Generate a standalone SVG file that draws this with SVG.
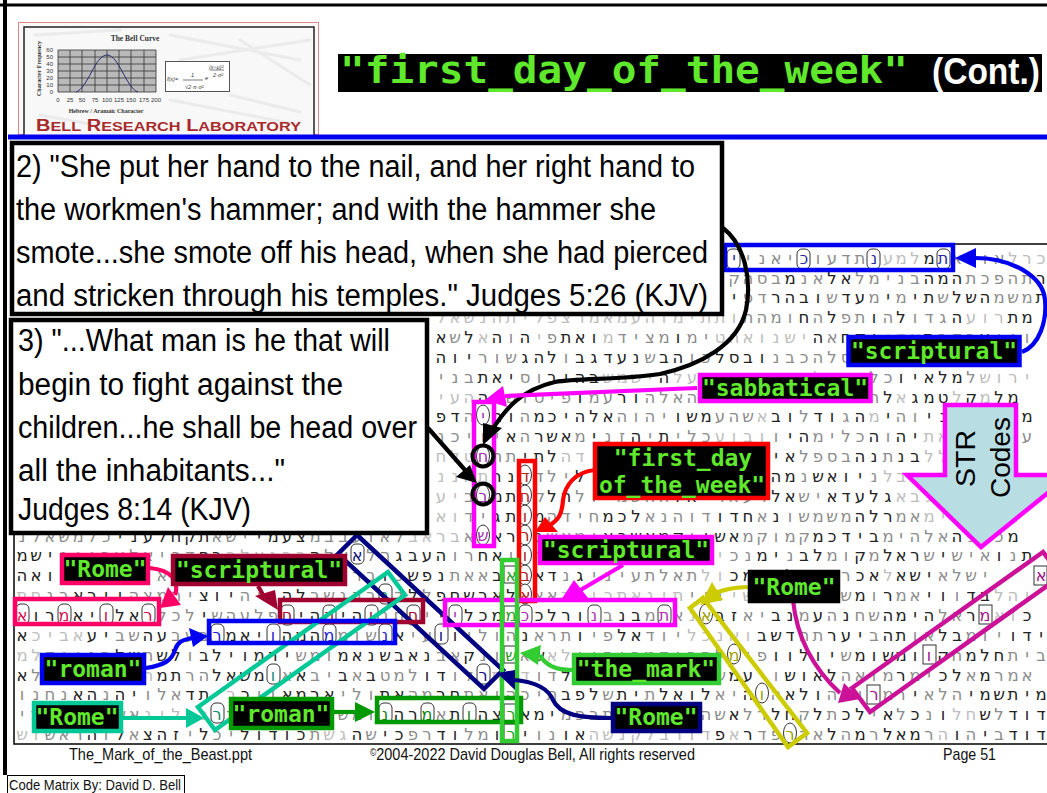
<svg xmlns="http://www.w3.org/2000/svg" width="1047" height="793" viewBox="0 0 1047 793">
<style>
text{font-family:"Liberation Sans",Arial,sans-serif}
.m{font-family:"DejaVu Sans",sans-serif;font-size:16.5px;text-anchor:middle;direction:ltr;unicode-bidi:bidi-override;fill:#222}
.g{fill:#8c8c8c}
.l{fill:#bdbdbd}
.lb rect{fill:#000;stroke-width:4.5}
.lb text{font-family:"DejaVu Sans Mono",monospace;font-weight:700;font-size:23px;fill:#5fe82c;text-anchor:middle}
.hl{fill:none;stroke-width:4.5;stroke-linejoin:miter}
.cb{fill:#fff;stroke:#000;stroke-width:4.5}
.cb text{fill:#000;stroke:none;font-size:31px}
.ln{fill:none;stroke-width:4.2}
.ft{font-size:17px;fill:#111}
.k rect,.k ellipse{fill:#fff;stroke:#333;stroke-width:1}
.k text{font-family:"DejaVu Sans",sans-serif;font-size:16px;text-anchor:middle;direction:ltr;unicode-bidi:bidi-override}
.lg{font-family:"Liberation Serif",serif;fill:#333}
.tt{font-family:"DejaVu Sans Mono",monospace;font-weight:700}
</style>
<rect width="1047" height="793" fill="#fff"/>
<g id="matrix">
<text class="m" y="263.6" x="734 748 762 776 790 804 818 832 846 860 874 888 901 915 929 943 957 971 985 999 1013 1027 1041"><tspan class="g">יינאי</tspan><tspan class="g">כועדת</tspan><tspan class="l">נעמל</tspan>מת<tspan class="g">אווא</tspan><tspan class="l">לרכ</tspan></text>
<text class="m" y="283.5" x="734 748 762 776 790 804 818 832 846 860 874 888 901 915 929 943 957 971 985 999 1013 1027 1041"><tspan class="g">קהסב</tspan>מ<tspan class="g">נא</tspan>לא<tspan class="g">למינב</tspan>המה<tspan class="g">תכפהת</tspan>ר</text>
<text class="m" y="303.3" x="734 748 762 776 790 804 818 832 846 860 874 888 901 915 929 943 957 971 985 999 1013 1027 1041">י<tspan class="g">פד</tspan>רהבו<tspan class="g">ש</tspan>דע<tspan class="g">מ</tspan>י<tspan class="g">מ</tspan>ית<tspan class="g">ש</tspan>לשה<tspan class="g">משמ</tspan>ת</text>
<text class="m" y="323.2" x="441 455 469 483 497 511 525 539 552 566 580 594 608 622 636 650 664 678 692 706 720 734 748 762 776 790 804 818 832 846 860 874 888 901 915 929 943 957 971 985 999 1013 1027 1041"><tspan class="l">לאשנהתילפצרמאמעהומית</tspan><tspan class="l">תו</tspan><tspan class="g">תהמו</tspan>ח<tspan class="g">ה</tspan>ל<tspan class="g">פת</tspan>ו<tspan class="g">ה</tspan>ל<tspan class="g">ודג</tspan>ה<tspan class="l">עור</tspan>תמ</text>
<text class="m" y="343" x="441 455 469 483 497 511 525 539 552 566 580 594 608 622 636 650 664 678 692 706 720 734 748 762 776 790 804 818 832 846 860 874 888 901 915 929 943 957 971 985 999 1013 1027 1041">א<tspan class="g">ש</tspan>ל<tspan class="l">א</tspan>ה<tspan class="g">ו</tspan>ה<tspan class="l">י</tspan><tspan class="g">פ</tspan>תאו<tspan class="l">מ</tspan><tspan class="g">דיצמ</tspan>ו<tspan class="g">מי</tspan><tspan class="l">טהאונשי</tspan>ה<tspan class="g">א</tspan>חקי<tspan class="l">ודא</tspan>ת<tspan class="g">בדב</tspan>ע<tspan class="g">יוו</tspan></text>
<text class="m" y="362.9" x="441 455 469 483 497 511 525 539 552 566 580 594 608 622 636 650 664 678 692 706 720 734 748 762 776 790 804 818 832 846 860 874 888 901 915 929 943 957 971 985 999 1013 1027 1041">הוי<tspan class="g">רוש</tspan>גהל<tspan class="g">ו</tspan>בגדענ<tspan class="g">ש</tspan>בה<tspan class="g">וכ</tspan>לסבו<tspan class="g">נבכהלס</tspan>בונ<tspan class="g">רג</tspan>סולד<tspan class="g">ד</tspan>ר</text>
<text class="m" y="382.7" x="441 455 469 483 497 511 525 539 552 566 580 594 608 622 636 650 664 678 692 706 720 734 748 762 776 790 804 818 832 846 860 874 888 901 915 929 943 957 971 985 999 1013 1027 1041"><tspan class="g">ינב</tspan>תאי<tspan class="g">סו</tspan>ביהב<tspan class="l">שמשי</tspan>ה<tspan class="l">לעא</tspan><tspan class="l">רבד</tspan>ואמ<tspan class="l">תלאה</tspan><tspan class="l">א</tspan><tspan class="g">לכ</tspan>ויאלמ<tspan class="g">ל</tspan><tspan class="l">שורי</tspan></text>
<text class="m" y="402.6" x="441 455 469 483 497 511 525 539 552 566 580 594 608 622 636 650 664 678 692 706 720 734 748 762 776 790 804 818 832 846 860 874 888 901 915 929 943 957 971 985 999 1013 1027 1041"><tspan class="l">יעה</tspan>ה<tspan class="g">רשוסיפ</tspan>ו<tspan class="g">מע</tspan>רו<tspan class="g">הלאהמ</tspan>יה<tspan class="l">אלמגתשמל</tspan><tspan class="g">דה</tspan>ל<tspan class="l">א</tspan>גמט<tspan class="l">ל</tspan>ק<tspan class="l">מ</tspan>למ</text>
<text class="m" y="422.4" x="441 455 469 483 497 511 525 539 552 566 580 594 608 622 636 650 664 678 692 706 720 734 748 762 776 790 804 818 832 846 860 874 888 901 915 929 943 957 971 985 999 1013 1027 1041">פד<tspan class="g">הי</tspan>הו<tspan class="g">ה</tspan>מכיהלא<tspan class="g">הוהי</tspan>ושמ<tspan class="g">ע</tspan><tspan class="g">הש</tspan><tspan class="l">א</tspan>בו<tspan class="g">ל</tspan>דו<tspan class="g">ג</tspan>ה<tspan class="l">מ</tspan>י<tspan class="g">הו</tspan>ינ<tspan class="g">ואתי</tspan><tspan class="g">א</tspan>מ</text>
<text class="m" y="442.3" x="441 455 469 483 497 511 525 539 552 566 580 594 608 622 636 650 664 678 692 706 720 734 748 762 776 790 804 818 832 846 860 874 888 901 915 929 943 957 971 985 999 1013 1027 1041"><tspan class="g">נכיוי</tspan>א<tspan class="g">ה</tspan>רשא<tspan class="g">מ</tspan>י<tspan class="g">נז</tspan>ה<tspan class="g">י</tspan>ת<tspan class="g">ילכ</tspan><tspan class="l">עובו</tspan><tspan class="g">ו</tspan>יה<tspan class="g">מילכ</tspan>ה<tspan class="g">ו</tspan>הי<tspan class="l">תא</tspan><tspan class="l">לאמנ</tspan><tspan class="g">בע</tspan></text>
<text class="m" y="462.1" x="441 455 469 483 497 511 525 539 552 566 580 594 608 622 636 650 664 678 692 706 720 734 748 762 776 790 804 818 832 846 860 874 888 901 915 929 943 957 971 985 999 1013 1027 1041"><tspan class="l">חלט</tspan><tspan class="g">תחת</tspan>יתל<tspan class="l">הדיהואלכמיאמרי</tspan>דיא<tspan class="g">לפסב</tspan>הנ<tspan class="g">ת</tspan>נב<tspan class="l">ללארת</tspan><tspan class="g">ימ</tspan></text>
<text class="m" y="482" x="441 455 469 483 497 511 525 539 552 566 580 594 608 622 636 650 664 678 692 706 720 734 748 762 776 790 804 818 832 846 860 874 888 901 915 929 943 957 971 985 999 1013 1027 1041"><tspan class="l">ננאת</tspan>רנת<tspan class="g">דלי</tspan>ל<tspan class="l">ולומלחתיהנל</tspan><tspan class="g">מל</tspan>המ<tspan class="g">נ</tspan>שאוי<tspan class="g">נ</tspan><tspan class="l">לבגיהויתנ</tspan></text>
<text class="m" y="501.8" x="441 455 469 483 497 511 525 539 552 566 580 594 608 622 636 650 664 678 692 706 720 734 748 762 776 790 804 818 832 846 860 874 888 901 915 929 943 957 971 985 999 1013 1027 1041"><tspan class="l">עי</tspan><tspan class="g">בנ</tspan>מת<tspan class="g">חק</tspan>לה<tspan class="g">לוימשהה</tspan>לאי<tspan class="g">רא</tspan><tspan class="g">ער</tspan>לא<tspan class="g">שי</tspan>אדעלג<tspan class="l">אבגדשאי</tspan><tspan class="g">מ</tspan></text>
<text class="m" y="521.7" x="441 455 469 483 497 511 525 539 552 566 580 594 608 622 636 650 664 678 692 706 720 734 748 762 776 790 804 818 832 846 860 874 888 901 915 929 943 957 971 985 999 1013 1027 1041"><tspan class="l">או</tspan><tspan class="g">די</tspan>גתאמ<tspan class="g">הדיח</tspan>מכל<tspan class="g">אנה</tspan><tspan class="g">וד</tspan>ודח<tspan class="g">א</tspan>נ<tspan class="g">ושמשמ</tspan>הלר<tspan class="g">מא</tspan><tspan class="l">מיהלא</tspan><tspan class="g">מ</tspan><tspan class="l">ה</tspan></text>
<text class="m" y="541.5" x="22 36 50 64 78 92 106 120 134 148 162 176 190 204 217 231 245 259 273 287 301 315 329 343 357 371 385 399 413 427 441 455 469 483 497 511 525 539 552 566 580 594 608 622 636 650 664 678 692 706 720 734 748 762 776 790 804 818 832 846 860 874 888 901 915 929 943 957 971 985 999 1013 1027 1041"><tspan class="g">נלאשמלכ</tspan>ינעלחקת<tspan class="g">אשי</tspan>ימעצ<tspan class="g">מבבעואל</tspan><tspan class="l">בארב</tspan><tspan class="g">או</tspan>ארמנ<tspan class="g">שאמי</tspan>אכשאמק<tspan class="g">ו</tspan>ושא<tspan class="g">מקומק</tspan>מכדיב<tspan class="g">מיהלא</tspan>ה<tspan class="g">ניכ</tspan>מ</text>
<text class="m" y="561.4" x="22 36 50 64 78 92 106 120 134 148 162 176 190 204 217 231 245 259 273 287 301 315 329 343 357 371 385 399 413 427 441 455 469 483 497 511 525 539 552 566 580 594 608 622 636 650 664 678 692 706 720 734 748 762 776 790 804 818 832 846 860 874 888 901 915 929 943 957 971 985 999 1013 1027 1041">משי<tspan class="g">ניובעלאיכד</tspan>חב<tspan class="l">רלאנבר</tspan>ה<tspan class="g">לא</tspan>א<tspan class="g">לה</tspan>גבעה<tspan class="g">ור</tspan>חא<tspan class="g">וחתאימלכימשהלא</tspan><tspan class="l">יי</tspan><tspan class="g">כנ</tspan>מי<tspan class="g">נ</tspan>בל<tspan class="g">מו</tspan>ק<tspan class="g">מ</tspan>לאר<tspan class="g">ש</tspan>י<tspan class="g">שיא</tspan>ו<tspan class="g">נ</tspan>ת</text>
<text class="m" y="581.2" x="22 36 50 64 78 92 106 120 134 148 162 176 190 204 217 231 245 259 273 287 301 315 329 343 357 371 385 399 413 427 441 455 469 483 497 511 525 539 552 566 580 594 608 622 636 650 664 678 692 706 720 734 748 762 776 790 804 818 832 846 860 874 888 901 915 929 943 957 971 985 999 1013 1027 1041">האו<tspan class="g">ימלכתהיאשרבנילוהלאעמי</tspan><tspan class="g">רב</tspan>ו<tspan class="g">כ</tspan>שפנ<tspan class="g">תאא</tspan>ב<tspan class="g">יל</tspan>אד<tspan class="g">נ</tspan>ג<tspan class="g">יניע</tspan><tspan class="g">תלאת</tspan><tspan class="l">לו</tspan>כמ<tspan class="l">עמ</tspan>לכ<tspan class="g">תיר</tspan>כא<tspan class="l">ל</tspan>אשי<tspan class="g">אלשי</tspan></text>
<text class="m" y="601.1" x="22 36 50 64 78 92 106 120 134 148 162 176 190 204 217 231 245 259 273 287 301 315 329 343 357 371 385 399 413 427 441 455 469 483 497 511 525 539 552 566 580 594 608 622 636 650 664 678 692 706 720 734 748 762 776 790 804 818 832 846 860 874 888 901 915 929 943 957 971 985 999 1013 1027 1041"><tspan class="l">תח</tspan><tspan class="g">נב</tspan>אריו<tspan class="g">הצמהי</tspan>צוי<tspan class="g">הי</tspan>והל<tspan class="g">בשנרבעד</tspan>ל<tspan class="g">ל</tspan>פחשראל<tspan class="g">הצא</tspan><tspan class="l">ברוכתאני</tspan><tspan class="l">ת</tspan><tspan class="g">יוו</tspan><tspan class="l">ישמואלי</tspan>ו<tspan class="g">ש</tspan>מ<tspan class="g">ו</tspan>ר<tspan class="g">מא</tspan>יו<tspan class="g">ו</tspan>דב<tspan class="l">להו</tspan></text>
<text class="m" y="620.9" x="22 36 50 64 78 92 106 120 134 148 162 176 190 204 217 231 245 259 273 287 301 315 329 343 357 371 385 399 413 427 441 455 469 483 497 511 525 539 552 566 580 594 608 622 636 650 664 678 692 706 720 734 748 762 776 790 804 818 832 846 860 874 888 901 915 929 943 957 971 985 999 1013 1027 1041">אורמאיולאר<tspan class="g">לכל</tspan>י<tspan class="g">שהעלפ</tspan>חיהמיהו<tspan class="g">נחתי</tspan>יעלכמב<tspan class="g">ל</tspan>כלרוק<tspan class="g">ב</tspan>נב<tspan class="g">מ</tspan><tspan class="l">ו</tspan><tspan class="g">א</tspan><tspan class="l">ני</tspan>בז<tspan class="g">אי</tspan>בנ<tspan class="g">מ</tspan>ע<tspan class="g">ה</tspan>נ<tspan class="g">חש</tspan>המיה<tspan class="g">לא</tspan>רמ<tspan class="l">או</tspan>כ</text>
<text class="m" y="640.8" x="22 36 50 64 78 92 106 120 134 148 162 176 190 204 217 231 245 259 273 287 301 315 329 343 357 371 385 399 413 427 441 455 469 483 497 511 525 539 552 566 580 594 608 622 636 650 664 678 692 706 720 734 748 762 776 790 804 818 832 846 860 874 888 901 915 929 943 957 971 985 999 1013 1027 1041">א<tspan class="l">כיבא</tspan>עי<tspan class="g">בש</tspan>הע<tspan class="g">בעב</tspan>רמאיוהמה<tspan class="g">שמוש</tspan>נא<tspan class="g">יע</tspan>יו<tspan class="g">ילוה</tspan>נ<tspan class="g">ארת</tspan>ו<tspan class="g">יפ</tspan>לא<tspan class="g">דוי</tspan><tspan class="l">לכנאו</tspan>בשד<tspan class="g">הת</tspan>רעי<tspan class="g">ב</tspan>הת<tspan class="g">וא</tspan>לב<tspan class="g">מוי</tspan>ודי</text>
<text class="m" y="660.6" x="22 36 50 64 78 92 106 120 134 148 162 176 190 204 217 231 245 259 273 287 301 315 329 343 357 371 385 399 413 427 441 455 469 483 497 511 525 539 552 566 580 594 608 622 636 650 664 678 692 706 720 734 748 762 776 790 804 818 832 846 860 874 888 901 915 929 943 957 971 985 999 1013 1027 1041"><tspan class="l">מל</tspan><tspan class="g">דוינב</tspan>לש<tspan class="g">ת</tspan>של<tspan class="g">ו</tspan>בליומרי<tspan class="g">שמו</tspan>מאנשבאנ<tspan class="g">בא</tspan>ק<tspan class="g">נולא</tspan>ש<tspan class="l">אל</tspan><tspan class="g">ויהיבמדור</tspan><tspan class="g">הלשיפ</tspan>וולוי<tspan class="g">ש</tspan>מושמו<tspan class="g">ד</tspan>ק<tspan class="g">ח</tspan>מלח<tspan class="g">תיב</tspan></text>
<text class="m" y="680.5" x="22 36 50 64 78 92 106 120 134 148 162 176 190 204 217 231 245 259 273 287 301 315 329 343 357 371 385 399 413 427 441 455 469 483 497 511 525 539 552 566 580 594 608 622 636 650 664 678 692 706 720 734 748 762 776 790 804 818 832 846 860 874 888 901 915 929 943 957 971 985 999 1013 1027 1041">א<tspan class="g">ללכת</tspan>אשי<tspan class="l">רה</tspan>מת<tspan class="g">רה</tspan>לאשמ<tspan class="g">וא</tspan>א<tspan class="g">בי</tspan>ב<tspan class="g">א</tspan>ב<tspan class="g">טמל</tspan>וד<tspan class="g">ול</tspan>נ<tspan class="l">תכ</tspan><tspan class="l">ד</tspan><tspan class="g">וד</tspan>לכ<tspan class="g">בש</tspan><tspan class="g">יתלאדה</tspan><tspan class="g">יש</tspan>מע<tspan class="g">יו</tspan>שואל<tspan class="g">האומ</tspan>ר<tspan class="g">מי</tspan>כל<tspan class="g">א</tspan>מ<tspan class="g">רמא</tspan></text>
<text class="m" y="700.3" x="22 36 50 64 78 92 106 120 134 148 162 176 190 204 217 231 245 259 273 287 301 315 329 343 357 371 385 399 413 427 441 455 469 483 497 511 525 539 552 566 580 594 608 622 636 650 664 678 692 706 720 734 748 762 776 790 804 818 832 846 860 874 888 901 915 929 943 957 971 985 999 1013 1027 1041"><tspan class="g">ונחנ</tspan>אה<tspan class="g">נ</tspan>הי<tspan class="g">ולא</tspan>דת<tspan class="l">יר</tspan>כ<tspan class="g">יו</tspan>אמרא<tspan class="g">ילו</tspan>תא<tspan class="g">המ</tspan>רח<tspan class="g">תאוה</tspan><tspan class="g">כית</tspan>בפל<tspan class="g">ש</tspan>תי<tspan class="g">ת</tspan>לאול<tspan class="g">אי</tspan>ה<tspan class="g">וה</tspan>אלו<tspan class="g">ה</tspan>י<tspan class="g">ו</tspan>א<tspan class="g">מר</tspan>י<tspan class="g">אלה</tspan>ימשתימ</text>
<text class="m" y="720.2" x="22 36 50 64 78 92 106 120 134 148 162 176 190 204 217 231 245 259 273 287 301 315 329 343 357 371 385 399 413 427 441 455 469 483 497 511 525 539 552 566 580 594 608 622 636 650 664 678 692 706 720 734 748 762 776 790 804 818 832 846 860 874 888 901 915 929 943 957 971 985 999 1013 1027 1041"><tspan class="g">ימחלכעתשא</tspan><tspan class="l">נילונ</tspan><tspan class="g">דברהיאלכישמו</tspan><tspan class="g">נ</tspan>הר<tspan class="g">מא</tspan>ת<tspan class="g">ו</tspan>הצראמי<tspan class="g">מפ</tspan><tspan class="g">בתשלתינוה</tspan><tspan class="g">ש</tspan>א<tspan class="g">לר</tspan>לח<tspan class="g">ק</tspan>ל<tspan class="g">ת</tspan>כל<tspan class="g">י</tspan>א<tspan class="g">ל</tspan>כ<tspan class="g">נ</tspan>ו<tspan class="l">לח</tspan>ש<tspan class="g">ל</tspan>דוד</text>
<text class="m" y="740" x="22 36 50 64 78 92 106 120 134 148 162 176 190 204 217 231 245 259 273 287 301 315 329 343 357 371 385 399 413 427 441 455 469 483 497 511 525 539 552 566 580 594 608 622 636 650 664 678 692 706 720 734 748 762 776 790 804 818 832 846 860 874 888 901 915 929 943 957 971 985 999 1013 1027 1041"><tspan class="l">שו</tspan><tspan class="g">שאר</tspan>ה<tspan class="g">ו</tspan>ל<tspan class="g">א</tspan>צהז<tspan class="g">י</tspan>ל<tspan class="g">כי</tspan>לודוכ<tspan class="g">ת</tspan><tspan class="l">שג</tspan>ה<tspan class="g">ש</tspan>יכ<tspan class="g">פר</tspan>דו<tspan class="g">למ</tspan>ו<tspan class="g">א</tspan>י<tspan class="g">ונ</tspan>וא<tspan class="l">השנקלבדוד</tspan>פ<tspan class="l">א</tspan>ר<tspan class="g">דפ</tspan>א<tspan class="g">רא</tspan>ל<tspan class="g">ה</tspan>מ<tspan class="g">ר</tspan>לאמ<tspan class="g">ר</tspan><tspan class="l">ה</tspan>ו<tspan class="g">ה</tspan>י<tspan class="g">ב</tspan>דוד</text>
</g>
<g id="frame" fill="none" stroke="#000">
<path d="M5,0V775" stroke-width="4"/><path d="M0,5H1047" stroke-width="3"/>
<path d="M955,244H1047" stroke-width="1.5"/>
<path d="M14,534V744H1047" stroke-width="1.5"/>
</g>
<g id="marks">
<g class="k" fill="#2a2aa0">
<rect x="727" y="249" width="13" height="20" rx="5"/><text x="734" y="264">י</text>
<rect x="797" y="249" width="13" height="20" rx="5"/><text x="804" y="264">כ</text>
<rect x="867" y="249" width="13" height="20" rx="5"/><text x="874" y="264">נ</text>
<rect x="937" y="249" width="13" height="20" rx="5"/><text x="943" y="264">ת</text>
</g>
<g class="k" fill="#a030b0">
<ellipse cx="483" cy="415" rx="6.500" ry="10"/><text x="483" y="422">י</text>
<ellipse cx="483" cy="456" rx="6.500" ry="10"/><text x="483" y="462">ח</text>
<ellipse cx="483" cy="495" rx="6.500" ry="10"/><text x="483" y="502">ב</text>
<ellipse cx="483" cy="535" rx="6.500" ry="10"/><text x="483" y="541">ש</text>
</g>
<g class="k" fill="#b02020">
<ellipse cx="525" cy="475" rx="6.500" ry="10"/><text x="525" y="482">ד</text>
<ellipse cx="525" cy="495" rx="6.500" ry="10"/><text x="525" y="502">ח</text>
<ellipse cx="525" cy="515" rx="6.500" ry="10"/><text x="525" y="522">ו</text>
<ellipse cx="525" cy="535" rx="6.500" ry="10"/><text x="525" y="541">ר</text>
<ellipse cx="525" cy="555" rx="6.500" ry="10"/><text x="525" y="561">ו</text>
<ellipse cx="525" cy="575" rx="6.500" ry="10"/><text x="525" y="581">ב</text>
<ellipse cx="525" cy="594" rx="6.500" ry="10"/><text x="525" y="601">א</text>
</g>
<g class="k" fill="#2c9a2c">
<rect x="504" y="566" width="13" height="17"/><text x="511" y="581">א</text>
<rect x="504" y="606" width="13" height="17"/><text x="511" y="621">מ</text>
<rect x="504" y="646" width="13" height="17"/><text x="511" y="661">ש</text>
<rect x="504" y="704" width="13" height="18"/><text x="511" y="720">ר</text>
<rect x="504" y="724" width="13" height="18"/><text x="511" y="740">ר</text>
</g>
<g class="k" fill="#b030b0">
<rect x="449" y="605" width="13" height="20" rx="5"/><text x="455" y="621">י</text>
<rect x="519" y="605" width="13" height="20" rx="5"/><text x="525" y="621">כ</text>
<rect x="588" y="605" width="13" height="20" rx="5"/><text x="594" y="621">נ</text>
<rect x="658" y="605" width="13" height="20" rx="5"/><text x="664" y="621">ת</text>
</g>
<g class="k" fill="#a01030">
<rect x="281" y="605" width="13" height="20" rx="5"/><text x="287" y="621">ח</text>
<rect x="323" y="605" width="13" height="20" rx="5"/><text x="329" y="621">ה</text>
<rect x="365" y="605" width="13" height="20" rx="5"/><text x="371" y="621">ו</text>
<rect x="407" y="605" width="13" height="20" rx="5"/><text x="413" y="621">ח</text>
</g>
<g class="k" fill="#d01050">
<rect x="16" y="604" width="13" height="20" rx="5"/><text x="22" y="621">א</text>
<rect x="58" y="604" width="13" height="20" rx="5"/><text x="64" y="621">מ</text>
<rect x="100" y="604" width="13" height="20" rx="5"/><text x="106" y="621">ו</text>
<rect x="142" y="604" width="13" height="20" rx="5"/><text x="148" y="621">ר</text>
</g>
<g class="k" fill="#2020d0">
<rect x="211" y="624" width="13" height="20" rx="5"/><text x="217" y="641">ר</text>
<rect x="267" y="624" width="13" height="20" rx="5"/><text x="273" y="641">ו</text>
<rect x="323" y="624" width="13" height="20" rx="5"/><text x="329" y="641">מ</text>
<rect x="379" y="624" width="13" height="20" rx="5"/><text x="385" y="641">נ</text>
</g>
<g class="k" fill="#108a70">
<rect x="211" y="703" width="13" height="20" rx="5"/><text x="217" y="720">ר</text>
<rect x="267" y="664" width="13" height="20" rx="5"/><text x="273" y="681">ו</text>
<rect x="379" y="584" width="13" height="20" rx="5"/><text x="385" y="601">נ</text>
</g>
<g class="k" fill="#101080">
<rect x="351" y="544" width="13" height="20" rx="5"/><text x="357" y="561">א</text>
<rect x="435" y="624" width="13" height="20" rx="5"/><text x="441" y="641">ו</text>
<rect x="477" y="664" width="13" height="20" rx="5"/><text x="483" y="681">ר</text>
</g>
<g class="k" fill="#108010">
<rect x="379" y="703" width="13" height="20" rx="5"/><text x="385" y="720">נ</text>
<rect x="421" y="703" width="13" height="20" rx="5"/><text x="427" y="720">מ</text>
<rect x="463" y="703" width="13" height="20" rx="5"/><text x="469" y="720">ו</text>
</g>
<g class="k" fill="#a0a000">
<ellipse cx="706" cy="614" rx="6.500" ry="10"/><text x="706" y="621">א</text>
<ellipse cx="734" cy="654" rx="6.500" ry="10"/><text x="734" y="661">מ</text>
<ellipse cx="762" cy="693" rx="6.500" ry="10"/><text x="762" y="700">ו</text>
<ellipse cx="790" cy="733" rx="6.500" ry="10"/><text x="790" y="740">ר</text>
</g>
<g class="k" fill="#a0108a">
<rect x="1034" y="566" width="13" height="19"/><text x="1041" y="581">א</text>
<rect x="979" y="605" width="13" height="19"/><text x="985" y="621">מ</text>
<rect x="923" y="645" width="13" height="19"/><text x="929" y="661">ו</text>
<rect x="867" y="685" width="13" height="19"/><text x="874" y="700">ר</text>
</g>
</g>
<g id="highlights">
<rect class="hl" stroke="#0000f0" x="725" y="245" width="228" height="25"/>
<rect class="hl" stroke="#ff00ff" x="474" y="402" width="20" height="144"/>
<rect class="hl" stroke="#ff0000" x="519" y="461" width="16" height="140"/>
<polygon class="hl" stroke="#000080" points="357,535 503,670 484,689 338,554"/>
<rect class="hl" stroke="#a00030" x="280" y="600" width="143" height="22"/>
<polygon class="hl" stroke="#00c896" points="198,707 388,572 405,595 215,730"/>
<rect class="hl" stroke="#ff0066" x="15" y="599" width="144" height="25"/>
<rect class="hl" stroke="#0000f0" x="209" y="621" width="186" height="22"/>
<rect class="hl" stroke="#ff00ff" x="445" y="600" width="230" height="25"/>
<rect class="hl" stroke="#009900" x="377" y="698" width="144" height="24"/>
<rect class="hl" stroke="#33cc33" x="502" y="560" width="15" height="181"/>
<polygon class="hl" stroke="#cccc00" points="690,608 703,598 807,733 788,747"/>
<polygon class="hl" stroke="#cc1199" points="852,688 1043,552 1061,576 870,712"/>
<g fill="none" stroke="#000" stroke-width="4"><circle cx="483" cy="456" r="10.500"/><circle cx="483" cy="494" r="10.500"/></g>
</g>
<g id="str-codes">
<polygon points="945,405 1016,405 1016,475 1070,475 981,547 907,475 945,475" fill="#b8dde3" stroke="#ff00ff" stroke-width="4.500"/>
<text transform="translate(975,487) rotate(-90)" font-size="28.500" fill="#000">STR</text>
<text transform="translate(1010,498) rotate(-90)" font-size="28" fill="#000">Codes</text>
</g>
<g id="box-2" class="cb">
<rect x="12" y="143" width="710" height="171"/>
<text x="16" y="177" textLength="679" lengthAdjust="spacingAndGlyphs">2) "She put her hand to the nail, and her right hand to</text>
<text x="16" y="220" textLength="640" lengthAdjust="spacingAndGlyphs">the workmen's hammer; and with the hammer she</text>
<text x="16" y="263" textLength="692" lengthAdjust="spacingAndGlyphs">smote...she smote off his head, when she had pierced</text>
<text x="16" y="306" textLength="692" lengthAdjust="spacingAndGlyphs">and stricken through his temples." Judges 5:26 (KJV)</text>
</g>
<g id="box-3" class="cb">
<rect x="11" y="320" width="416" height="213"/>
<text x="18" y="351" textLength="372" lengthAdjust="spacingAndGlyphs">3) "...What man is he that will</text>
<text x="18" y="395" textLength="325" lengthAdjust="spacingAndGlyphs">begin to fight against the</text>
<text x="18" y="438" textLength="399" lengthAdjust="spacingAndGlyphs">children...he shall be head over</text>
<text x="18" y="481" textLength="267" lengthAdjust="spacingAndGlyphs">all the inhabitants..."</text>
<text x="18" y="520" textLength="233" lengthAdjust="spacingAndGlyphs">Judges 8:14 (KJV)</text>
</g>
<g id="connectors">
<g class="ln" stroke="#0000f0"><path d="M1022,352C1040,345 1047,320 1045,300C1043,275 1010,258 975,258"/><path d="M146,668C165,665 172,660 175,650C178,640 185,640 192,638"/></g>
<polygon fill="#0000f0" points="955,258 976,248 976,268"/><polygon fill="#0000f0" points="208,636 189,628 193,647"/>
<path class="ln" stroke="#000" d="M723,228C745,245 752,280 746,310C738,345 700,365 660,374C620,380 580,378 555,382C520,390 505,410 492,430"/>
<polygon fill="#000" points="483,445 483,423 502,428"/>
<path class="ln" stroke="#000" d="M428,428L465,470"/><polygon fill="#000" points="477,483 456,477 470,465"/>
<path class="ln" stroke="#ff00ff" d="M697,388L505,396"/><polygon fill="#ff00ff" points="485,400 503,386 507,407"/>
<path class="ln" stroke="#ff0000" d="M595,470C575,472 565,485 563,500C562,515 558,520 550,525"/><polygon fill="#ff0000" points="535,532 545,517 558,532"/>
<path class="ln" stroke="#ff00ff" d="M623,565L572,595"/><polygon fill="#ff00ff" points="561,600 574,580 588,598"/>
<path class="ln" stroke="#ff0066" d="M150,568C170,570 180,580 175,595"/><polygon fill="#ff0066" points="160,608 168,587 181,605"/>
<path class="ln" stroke="#a00030" d="M258,586L266,600"/><polygon fill="#a00030" points="278,610 255,596 275,590"/>
<path class="ln" stroke="#00c896" d="M123,718L190,718"/><polygon fill="#00c896" points="204,718 186,708 186,728"/>
<path class="ln" stroke="#009900" d="M334,712L358,712"/><polygon fill="#009900" points="375,712 355,702 355,722"/>
<path class="ln" stroke="#33cc33" d="M572,670C555,670 545,665 540,655"/><polygon fill="#33cc33" points="520,653 541,645 538,665"/>
<path class="ln" stroke="#000080" d="M611,718C580,718 560,715 553,700C548,688 535,682 515,680"/><polygon fill="#000080" points="497,673 515,670 515,690"/>
<path class="ln" stroke="#cccc00" d="M750,587C730,587 715,592 708,597"/><polygon fill="#cccc00" points="700,605 712,582 723,600"/>
<path class="ln" stroke="#cc1199" d="M793,600C797,640 815,670 840,693"/><polygon fill="#cc1199" points="860,699 844,683 838,703"/>
</g>
<g id="label-scriptural-top" class="lb"><rect stroke="#0000f0" x="848.500" y="337" width="171" height="28"/><text x="934" y="359">"scriptural"</text></g>
<g id="label-sabbatical" class="lb"><rect stroke="#ff00ff" x="700" y="375" width="170.500" height="26"/><text x="785" y="396">"sabbatical"</text></g>
<g id="label-first-day" class="lb"><rect stroke="#ff0000" x="595" y="444" width="173" height="54"/><text x="683" y="466">"first_day</text><text x="682" y="493">of_the_week"</text></g>
<g id="label-scriptural-mid" class="lb"><rect stroke="#ff00ff" x="540" y="537" width="172" height="26"/><text x="626" y="558">"scriptural"</text></g>
<g id="label-rome-pink" class="lb"><rect stroke="#ff0066" x="62" y="555" width="86" height="28"/><text x="105" y="577">"Rome"</text></g>
<g id="label-scriptural-red" class="lb"><rect stroke="#a00030" x="173" y="556" width="172" height="28"/><text x="259" y="578">"scriptural"</text></g>
<g id="label-roman-blue" class="lb"><rect stroke="#0000f0" x="42" y="655" width="102" height="28"/><text x="93" y="677">"roman"</text></g>
<g id="label-rome-teal" class="lb"><rect stroke="#00c896" x="34" y="703" width="87" height="28"/><text x="77" y="725">"Rome"</text></g>
<g id="label-roman-green" class="lb"><rect stroke="#009900" x="231" y="699" width="101" height="29"/><text x="281" y="722">"roman"</text></g>
<g id="label-the-mark" class="lb"><rect stroke="#33cc33" x="574" y="655" width="145" height="28"/><text x="646" y="677">"the_mark"</text></g>
<g id="label-rome-navy" class="lb"><rect stroke="#000080" x="613" y="704" width="87" height="27"/><text x="656" y="725">"Rome"</text></g>
<g id="label-rome-black" class="lb"><rect stroke="#000" x="750" y="572" width="88" height="29"/><text x="794" y="595">"Rome"</text></g>
<g id="logo">
<rect x="18.500" y="22.500" width="300" height="112" fill="#fbf9f8" stroke="#d88" stroke-width="1"/>
<rect x="24" y="27" width="290" height="110" fill="#f8f8f8" stroke="#222" stroke-width="1.500"/>
<g stroke="#ebebeb" stroke-width="3" fill="none" stroke-linecap="round"><path d="M35,35L120,30M170,35L300,60M240,40L310,85M170,100L300,125M40,115L95,125M230,95L300,112M180,60L310,40"/></g>
<text class="lg" x="135" y="41" font-size="7.500" font-weight="700" text-anchor="middle">The Bell Curve</text>
<text class="lg" transform="translate(41,96) rotate(-90)" font-size="6" font-weight="700" fill="#555">Character Frequency</text>
<rect x="58" y="50" width="98" height="42" fill="#b9b9b9"/>
<path d="M58,50H156M58,57H156M58,64H156M58,71H156M58,78H156M58,85H156M58,92H156M70,50V92M82,50V92M95,50V92M107,50V92M119,50V92M131,50V92M144,50V92M156,50V92M58,50V92" stroke="#333" stroke-width=".8" fill="none"/>
<path d="M76,92C88,88 95,55 107,55C119,55 126,88 138,92" fill="none" stroke="#2a2a70" stroke-width="1"/>
<g class="lg" font-size="6" text-anchor="end"><text x="53" y="52">60</text><text x="53" y="59">50</text><text x="53" y="66">40</text><text x="53" y="73">30</text><text x="53" y="80">20</text><text x="53" y="87">10</text><text x="53" y="94">0</text></g>
<g class="lg" font-size="6" text-anchor="middle"><text x="58" y="102">0</text><text x="70" y="102">25</text><text x="82" y="102">50</text><text x="95" y="102">75</text><text x="107" y="102">100</text><text x="119" y="102">125</text><text x="131" y="102">150</text><text x="144" y="102">175</text><text x="156" y="102">200</text></g>
<text class="lg" x="106" y="113" font-size="6" font-weight="700" text-anchor="middle">Hebrew / Aramaic Character</text>
<rect x="165.500" y="61.500" width="64" height="30" fill="#fff" stroke="#555" stroke-width="1"/>
<path d="M183,80H203M210,70H224" stroke="#222" stroke-width=".6" fill="none"/>
<g class="lg" font-size="5.500" font-style="italic"><text x="167" y="81">f(x)=</text><text x="191" y="77">1</text><text x="185" y="89">√2·π·σ²</text><text x="205" y="80">e</text><text x="209" y="69">(x−μ)²</text><text x="213" y="77">2·σ²</text></g>
<text x="36" y="131" font-weight="700" fill="#a82a2c" textLength="265" lengthAdjust="spacingAndGlyphs"><tspan font-size="16">B</tspan><tspan font-size="13">ELL</tspan><tspan font-size="16"> R</tspan><tspan font-size="13">ESEARCH</tspan><tspan font-size="16"> L</tspan><tspan font-size="13">ABORATORY</tspan></text>
</g>
<path d="M8,137H1047" stroke="#0000ee" stroke-width="5" fill="none"/>
<g id="title">
<rect x="338" y="54" width="704" height="38" fill="#000"/>
<text class="tt" x="340" y="83" font-size="38" fill="#5fe82c" textLength="568" lengthAdjust="spacingAndGlyphs">"first_day_of_the_week"</text>
<text x="932" y="84" font-size="36" font-weight="700" fill="#fff" textLength="108" lengthAdjust="spacingAndGlyphs">(Cont.)</text>
</g>
<g id="footer">
<text class="ft" x="69" y="760" textLength="183" lengthAdjust="spacingAndGlyphs">The_Mark_of_the_Beast.ppt</text>
<text class="ft" x="370" y="760" textLength="325" lengthAdjust="spacingAndGlyphs"><tspan font-size="10" dy="-4">©</tspan><tspan dy="4">2004-2022 David Douglas Bell, All rights reserved</tspan></text>
<text class="ft" x="943" y="760" textLength="53" lengthAdjust="spacingAndGlyphs">Page 51</text>
<rect x="7.500" y="775.500" width="177" height="18" fill="#fff" stroke="#000" stroke-width="1"/>
<text x="9" y="790" font-size="15" fill="#111" textLength="172" lengthAdjust="spacingAndGlyphs">Code Matrix By: David D. Bell</text>
</g>
</svg>
